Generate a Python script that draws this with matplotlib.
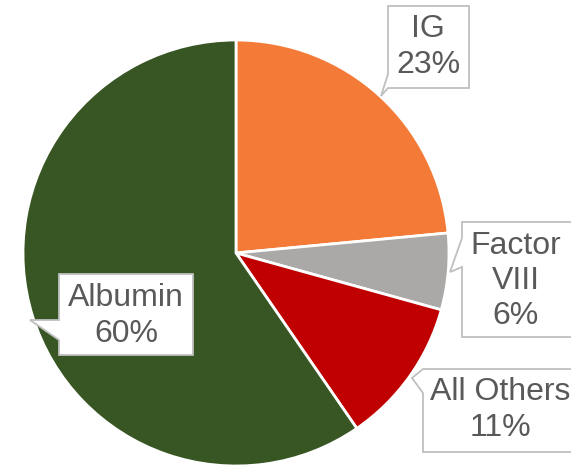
import matplotlib.pyplot as plt
from matplotlib.patches import Polygon

# data
categories = ["IG", "Factor\nVIII", "All Others", "Albumin"]
shares = [23.5, 5.8, 11.1, 59.6]
pct_labels = ["23%", "6%", "11%", "60%"]
colors = ["#F47A38", "#ABA9A7", "#C00000", "#375623"]

W, H = 571, 469
fig = plt.figure(figsize=(W / 100, H / 100), dpi=100)
ax = fig.add_axes([0, 0, 1, 1])

def fy(y):
    return H - y

ax.pie(shares, colors=colors, startangle=90, counterclock=False,
       center=(236, fy(253)), radius=213, frame=True,
       wedgeprops=dict(edgecolor="white", linewidth=2))
ax.set_xlim(0, W)
ax.set_ylim(0, H)
ax.set_aspect("equal")
ax.axis("off")

# callout boxes: (left, top, right, bottom, base_y0, base_y1, tip_x, tip_y)
boxes = [
    (388, 6, 469, 88, 74, 88, 381, 96),
    (462, 222, 575, 337, 238, 267, 450, 272),
    (423, 369, 575, 452, 369, 393, 412, 378),
    (59, 274, 193, 355, 320, 340, 30, 320),
]
text_pos = [(428, 47), (516, 281), (500, 410), (126, 316)]

for (l, t, r, b, y0, y1, tx, ty), (cx, cy), cat, pct in zip(boxes, text_pos, categories, pct_labels):
    pts = [(l, t), (r, t), (r, b), (l, b), (l, y1), (tx, ty), (l, y0)]
    ax.add_patch(Polygon([(x, fy(y)) for x, y in pts], closed=True,
                         facecolor="white", edgecolor="#BFBFBF", linewidth=1.3,
                         zorder=5))
    ax.text(cx, fy(cy), cat + "\n" + pct, ha="center", va="center",
            fontsize=23, color="#595959", family="Liberation Sans",
            linespacing=1.22, zorder=6)

fig.savefig("out.png", dpi=100)
